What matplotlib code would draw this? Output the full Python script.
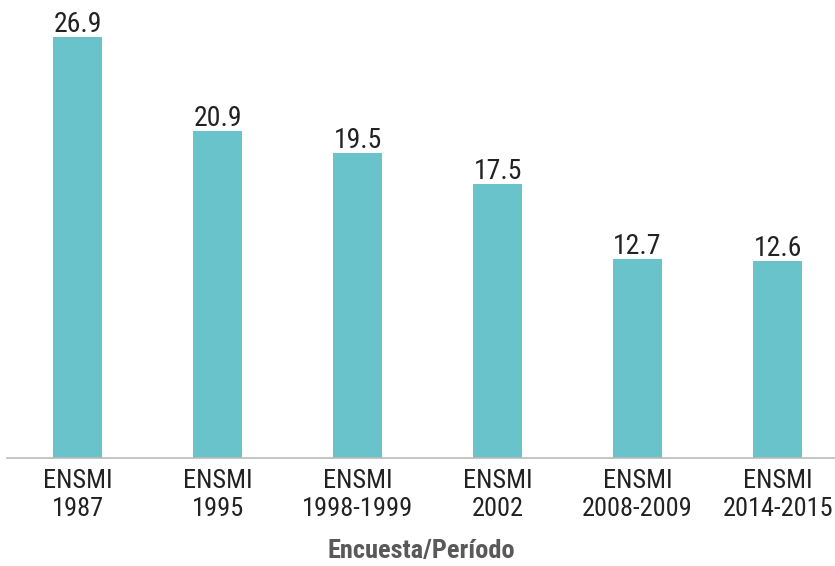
import matplotlib.pyplot as plt

# Data
categorias = ["ENSMI\n1987", "ENSMI\n1995", "ENSMI\n1998-1999", "ENSMI\n2002",
              "ENSMI\n2008-2009", "ENSMI\n2014-2015"]
valores = [26.9, 20.9, 19.5, 17.5, 12.7, 12.6]
etiquetas = ["26.9", "20.9", "19.5", "17.5", "12.7", "12.6"]

plt.rcParams['font.family'] = ['Roboto Condensed', 'Liberation Sans Narrow', 'Roboto', 'DejaVu Sans']

fig = plt.figure(figsize=(8.35, 5.66), dpi=100)
ax = fig.add_axes([7 / 835, 108 / 566, 828 / 835, 458 / 566])

x = list(range(len(valores)))
bars = ax.bar(x, valores, width=0.35, color="#69c3cb")

for b, lab in zip(bars, etiquetas):
    ax.text(b.get_x() + b.get_width() / 2, b.get_height() - 0.05, lab,
            ha="center", va="bottom", fontsize=20, color="#222222")

ax.set_xlim(-0.504, 5.41)
ax.set_ylim(0, 29.27)
ax.set_xticks(x)
ax.set_xticklabels(categorias, fontsize=19, color="#222222", linespacing=1.22)
ax.tick_params(axis="x", length=0, pad=8)
ax.set_yticks([])

for s in ["top", "right", "left"]:
    ax.spines[s].set_visible(False)
ax.spines["bottom"].set_color("#bbbbbb")
ax.spines["bottom"].set_linewidth(1.2)

ax.set_xlabel("Encuesta/Período", fontsize=19, fontweight="bold", color="#595959", labelpad=13)

fig.savefig("out.png", dpi=100)
